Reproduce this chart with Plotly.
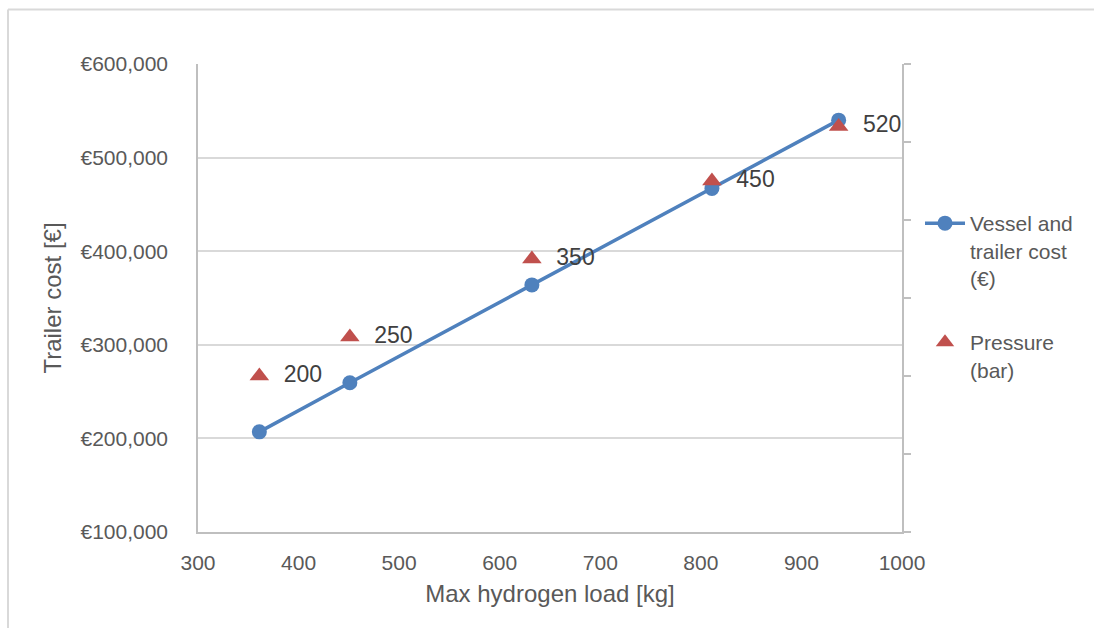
import plotly.graph_objects as go

# Data
h2_load_kg = [361, 451, 632, 811, 937]
trailer_cost_eur = [207000, 259500, 364000, 467000, 540000]
pressure_bar = [200, 250, 350, 450, 520]
pressure_labels = [str(p) for p in pressure_bar]

W, H = 1094, 628
ML, MR, MT, MB = 198, 192, 64, 96
PW, PH = W - ML - MR, H - MT - MB

def px_x(px):
    return (px - ML) / PW

def px_y(py):
    return (H - MB - py) / PH

FONT = "Liberation Sans, Arial, sans-serif"
TICK_COLOR = "#595959"
LINE_COLOR = "#bfbfbf"
GRID_COLOR = "#d9d9d9"

fig = go.Figure()

fig.add_trace(go.Scatter(
    x=h2_load_kg, y=trailer_cost_eur,
    mode="lines+markers",
    name="Vessel and<br>trailer cost<br>(€)",
    line=dict(color="#4F81BD", width=3.5),
    marker=dict(color="#4F81BD", size=15, symbol="circle"),
    legend="legend",
))

fig.add_trace(go.Scatter(
    x=h2_load_kg, y=pressure_bar,
    mode="markers+text",
    name="Pressure<br>(bar)",
    text=pressure_labels,
    textposition="middle right",
    texttemplate="  %{text}",
    textfont=dict(size=23, color="#404040", family=FONT),
    marker=dict(color="#C0504D", size=17, symbol="triangle-up"),
    yaxis="y2",
    legend="legend2",
))

fig.update_layout(
    width=W, height=H,
    margin=dict(l=ML, r=MR, t=MT, b=MB),
    paper_bgcolor="white", plot_bgcolor="white",
    font=dict(family=FONT, color=TICK_COLOR, size=21),
    xaxis=dict(
        range=[300, 1000], dtick=100, tick0=300,
        showgrid=False, zeroline=False,
        showline=True, linecolor=LINE_COLOR, linewidth=1.5,
        ticks="outside", ticklen=11, tickcolor="rgba(0,0,0,0)",
        tickfont=dict(size=21, color=TICK_COLOR),
        title=dict(text="Max hydrogen load [kg]", font=dict(size=24, color=TICK_COLOR), standoff=12),
    ),
    yaxis=dict(
        range=[100000, 600000], dtick=100000, tick0=100000,
        tickprefix="€", tickformat=",",
        showgrid=True, gridcolor=GRID_COLOR, gridwidth=1.5,
        zeroline=False,
        showline=True, linecolor=LINE_COLOR, linewidth=1.5,
        ticks="outside", ticklen=24, tickcolor="rgba(0,0,0,0)",
        tickfont=dict(size=21, color=TICK_COLOR),
        title=dict(text="Trailer cost [€]", font=dict(size=24, color=TICK_COLOR), standoff=12),
    ),
    yaxis2=dict(
        overlaying="y", side="right",
        range=[0, 600], dtick=100, tick0=0,
        showgrid=False, zeroline=False,
        showticklabels=False,
        showline=True, linecolor=LINE_COLOR, linewidth=1.5,
        ticks="outside", ticklen=7, tickcolor=LINE_COLOR, tickwidth=1.5,
    ),
    legend=dict(
        x=px_x(920), y=px_y(203), xanchor="left", yanchor="top",
        valign="top", bgcolor="rgba(0,0,0,0)",
        font=dict(size=21, color=TICK_COLOR, family=FONT),
        itemwidth=40,
    ),
    legend2=dict(
        x=px_x(920), y=px_y(322), xanchor="left", yanchor="top",
        valign="top", bgcolor="rgba(0,0,0,0)",
        font=dict(size=21, color=TICK_COLOR, family=FONT),
        itemwidth=40,
    ),
    showlegend=True,
    shapes=[
        dict(type="line", xref="paper", yref="paper",
             x0=px_x(8), x1=px_x(1100), y0=px_y(9.5), y1=px_y(9.5),
             line=dict(color=GRID_COLOR, width=2)),
        dict(type="line", xref="paper", yref="paper",
             x0=px_x(8), x1=px_x(8), y0=px_y(9.5), y1=px_y(640),
             line=dict(color=GRID_COLOR, width=2)),
    ],
)

fig.write_html("out.html")
